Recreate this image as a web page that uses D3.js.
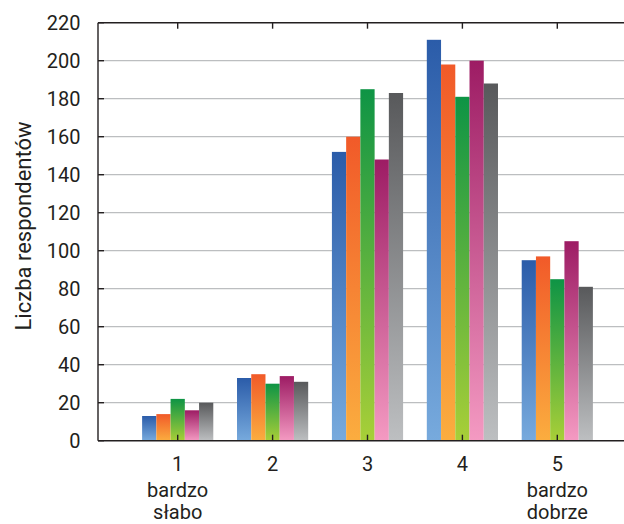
<!DOCTYPE html>
<html>
<head>
<meta charset="utf-8">
<script src="https://cdn.jsdelivr.net/npm/d3@7"></script>
<style>
  body { margin: 0; background: #fff; }
  text { font-family: Roboto, sans-serif; fill: #231f20; }
  .grid { stroke: #bcbec0; stroke-width: 1.2; }
  .axis { stroke: #231f20; stroke-width: 1.4; }
</style>
</head>
<body>
<div class="container"></div>
<script>
const W = 624;
const H = 524;
const AXIS_X = 98;
const Y_TOP = 22.7;
const Y_BOTTOM = 440.7;

// categories (rating 1..5) and the labels under them
var categories = ["1", "2", "3", "4", "5"];
var subLabels = [["bardzo", "słabo"], [], [], [], ["bardzo", "dobrze"]];

// five series, one value per category
var series1 = [13, 33, 152, 211, 95];
var series2 = [14, 35, 160, 198, 97];
var series3 = [22, 30, 185, 181, 85];
var series4 = [16, 34, 148, 200, 105];
var series5 = [20, 31, 183, 188, 81];
var seriesNames = ["s1", "s2", "s3", "s4", "s5"];
var seriesValues = [series1, series2, series3, series4, series5];

var yTicks = [0, 20, 40, 60, 80, 100, 120, 140, 160, 180, 200, 220];
var yLabel = "Liczba respondentów";

// top / bottom colour of each bar gradient
var gradTop = ["#2b5ca9", "#f15a29", "#0e9445", "#9d1c64", "#58595b"];
var gradBottom = ["#77aadd", "#fbad3f", "#a8cf38", "#f49ac2", "#bdbfc1"];

var draw = function(){
    var svg = d3.select(".container").append("svg")
        .attr("width", W)
        .attr("height", H);

    var defs = svg.append("defs");
    seriesNames.forEach(function(name, i){
        var g = defs.append("linearGradient")
            .attr("id", "grad-" + name)
            .attr("x1", 0).attr("y1", 0)
            .attr("x2", 0).attr("y2", 1);
        g.append("stop").attr("offset", "0%").attr("stop-color", gradTop[i]);
        g.append("stop").attr("offset", "100%").attr("stop-color", gradBottom[i]);
    });

    var y = d3.scaleLinear()
        .domain([0, 220])
        .range([Y_BOTTOM, Y_TOP]);

    var x = d3.scaleBand()
        .domain(categories)
        .range([130.25, 604.75])
        .paddingInner(0.25)
        .paddingOuter(0.125);

    var xs = d3.scaleBand()
        .domain(seriesNames)
        .range([0, x.bandwidth()]);

    // gridlines
    svg.append("g").selectAll("line")
        .data(yTicks.filter(function(d){ return d > 0 && d < 220; }))
        .enter().append("line")
        .attr("class", "grid")
        .attr("x1", AXIS_X).attr("x2", W)
        .attr("y1", function(d){ return y(d); })
        .attr("y2", function(d){ return y(d); });

    // bars
    var groups = svg.append("g").selectAll("g")
        .data(categories)
        .enter().append("g")
        .attr("transform", function(d){ return "translate(" + x(d) + ",0)"; });

    groups.selectAll("rect")
        .data(function(d, ci){
            return seriesNames.map(function(s, si){ return {s: s, v: seriesValues[si][ci]}; });
        })
        .enter().append("rect")
        .attr("x", function(d){ return xs(d.s); })
        .attr("width", xs.bandwidth())
        .attr("y", function(d){ return y(d.v); })
        .attr("height", function(d){ return y(0) - y(d.v); })
        .attr("fill", function(d){ return "url(#grad-" + d.s + ")"; });

    // frame lines
    svg.append("line").attr("class", "axis")
        .attr("x1", AXIS_X).attr("x2", W).attr("y1", Y_BOTTOM).attr("y2", Y_BOTTOM);
    svg.append("line").attr("class", "axis")
        .attr("x1", AXIS_X).attr("x2", W).attr("y1", Y_TOP).attr("y2", Y_TOP);
    svg.append("line").attr("class", "axis")
        .attr("x1", AXIS_X).attr("x2", AXIS_X).attr("y1", Y_TOP).attr("y2", Y_BOTTOM);

    // category ticks (top and bottom, inward)
    categories.forEach(function(c){
        var cx = x(c) + x.bandwidth() / 2;
        svg.append("line").attr("class", "axis")
            .attr("x1", cx).attr("x2", cx).attr("y1", Y_BOTTOM).attr("y2", Y_BOTTOM - 6);
        svg.append("line").attr("class", "axis")
            .attr("x1", cx).attr("x2", cx).attr("y1", Y_TOP).attr("y2", Y_TOP + 6);
    });

    // y ticks inward + labels
    yTicks.forEach(function(t){
        svg.append("line").attr("class", "axis")
            .attr("x1", AXIS_X).attr("x2", AXIS_X + 6)
            .attr("y1", y(t)).attr("y2", y(t));
        svg.append("text")
            .attr("x", 80.5)
            .attr("y", y(t) + 7)
            .attr("text-anchor", "end")
            .style("font-size", "20px")
            .text(t);
    });

    // x labels
    categories.forEach(function(c, i){
        var cx = x(c) + x.bandwidth() / 2;
        svg.append("text")
            .attr("x", cx).attr("y", 470.5)
            .attr("text-anchor", "middle")
            .style("font-size", "20px")
            .text(c);
        subLabels[i].forEach(function(s, j){
            svg.append("text")
                .attr("x", cx).attr("y", 496.5 + j * 22.5)
                .attr("text-anchor", "middle")
                .style("font-size", "20px")
                .text(s);
        });
    });

    // y axis title
    svg.append("text")
        .attr("transform", "translate(31,226) rotate(-90)")
        .attr("text-anchor", "middle")
        .style("font-size", "22px")
        .text(yLabel);
};

window.onload = draw;
</script>
</body>
</html>
